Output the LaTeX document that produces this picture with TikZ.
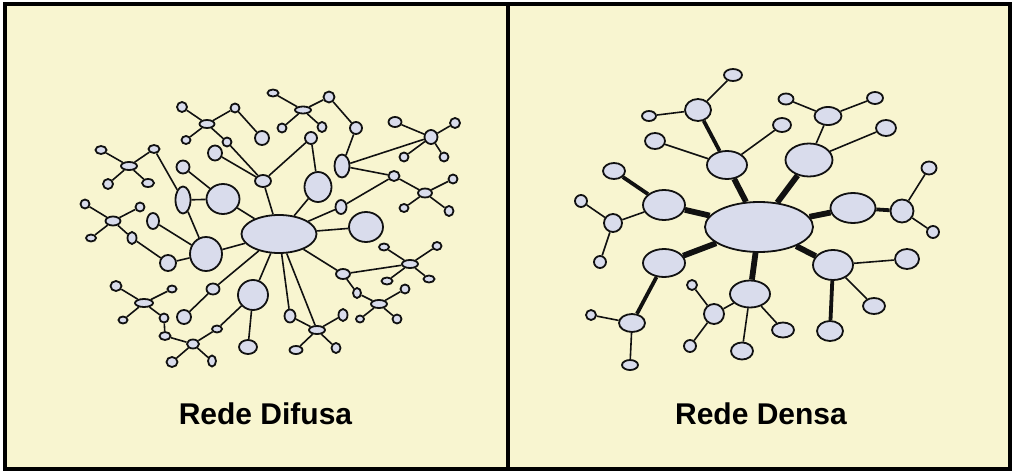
\documentclass[tikz,border=0pt]{standalone}
\usepackage{fontspec}
\setmainfont{Liberation Sans}
\usetikzlibrary{shapes.geometric}
\definecolor{bgcream}{HTML}{F8F5D0}
\definecolor{nodefill}{HTML}{D9DCEC}
\definecolor{edgeink}{HTML}{111111}
\tikzset{
  nd/.style={ellipse, draw=edgeink, line width=1.8pt, fill=nodefill, inner sep=0pt},
  ed/.style={draw=edgeink, line width=1.6pt},
  edmid/.style={draw=edgeink, line width=3.8pt},
  edthick/.style={draw=edgeink, line width=5.8pt},
  lbl/.style={font=\bfseries\fontsize{30}{36}\selectfont, anchor=base, inner sep=0pt}
}
\newcommand\mkn[5]{\node[nd, minimum width=#4pt, minimum height=#5pt] (#1) at (#2,#3) {};}
\begin{document}
\begin{tikzpicture}[x=1pt,y=-1pt]
\useasboundingbox (0,0) rectangle (1018,476);
\fill[white] (0,0) rectangle (1018,476);
\draw[line width=4pt, fill=bgcream] (4.5,4.5) rectangle (1010,469);
\coordinate (divtop) at (508,4.5);
\coordinate (divbot) at (508,469);
\draw[line width=3.5pt] (divtop) -- (divbot);

% ---------------- Left panel: Rede Difusa ----------------
\mkn{C}{279}{234}{75}{38}
\mkn{ah}{303}{110}{16}{7}
\mkn{a1}{273}{93}{11}{7}
\mkn{a2}{329}{97}{11}{11}
\mkn{a3}{282}{128}{9}{9}
\mkn{a4}{322}{127}{9}{10}
\mkn{a5}{356}{128}{12}{12}
\mkn{a6}{342}{166}{15}{23}
\mkn{bh}{431}{137}{13}{14}
\mkn{b1}{395}{122}{13}{10}
\mkn{b2}{455}{123}{10}{10}
\mkn{b3}{404}{157}{9}{9}
\mkn{b4}{444}{157}{9}{9}
\mkn{ch}{425}{193}{14}{9}
\mkn{c0}{394}{176}{11}{10}
\mkn{c1}{453}{179}{9}{9}
\mkn{c2}{404}{208}{9}{8}
\mkn{c3}{449}{211}{9}{10}
\mkn{d}{341}{207}{11}{14}
\mkn{e}{366}{227}{34}{30}
\mkn{f}{318}{187}{27}{30}
\mkn{g}{311}{138}{12}{12}
\mkn{h}{263}{181}{16}{12}
\mkn{i}{262}{138}{14}{14}
\mkn{j}{215}{153}{14}{15}
\mkn{k}{227}{142}{9}{9}
\mkn{lh}{207}{124}{15}{8}
\mkn{l1}{182}{107}{10}{10}
\mkn{l2}{235}{108}{9}{9}
\mkn{l3}{186}{140}{9}{8}
\mkn{m}{183}{167}{13}{13}
\mkn{n}{223}{199}{33}{30}
\mkn{o}{183}{200}{15}{27}
\mkn{mh}{129}{166}{16}{8}
\mkn{m1}{101}{150}{11}{8}
\mkn{m2}{154}{149}{11}{8}
\mkn{m3}{108}{184}{10}{10}
\mkn{m4}{148}{183}{12}{8}
\mkn{ph}{113}{221}{15}{9}
\mkn{p1}{85}{204}{9}{9}
\mkn{p2}{140}{207}{9}{9}
\mkn{p3}{91}{238}{10}{7}
\mkn{p4}{132}{238}{9}{12}
\mkn{q}{153}{221}{12}{16}
\mkn{r}{206}{254}{32}{34}
\mkn{s}{168}{263}{16}{16}
\mkn{th}{144}{303}{18}{8}
\mkn{t1}{116}{286}{11}{10}
\mkn{t2}{172}{289}{9}{7}
\mkn{t3}{123}{320}{9}{7}
\mkn{t4}{164}{318}{9}{9}
\mkn{uh}{193}{344}{12}{9}
\mkn{u0}{165}{336}{11}{8}
\mkn{u1}{217}{329}{10}{7}
\mkn{u2}{172}{362}{11}{10}
\mkn{u3}{212}{361}{8}{11}
\mkn{v}{213}{289}{13}{11}
\mkn{w}{184}{317}{14}{14}
\mkn{x}{253}{295}{30}{30}
\mkn{y}{248}{347}{18}{14}
\mkn{zh}{317}{330}{16}{8}
\mkn{z1}{290}{316}{11}{13}
\mkn{z2}{343}{315}{9}{12}
\mkn{z3}{296}{350}{13}{8}
\mkn{z4}{336}{348}{9}{10}
\mkn{A}{343}{274}{14}{10}
\mkn{A1}{357}{293}{8}{10}
\mkn{Bh}{379}{304}{16}{8}
\mkn{B1}{360}{319}{8}{7}
\mkn{B2}{397}{319}{9}{9}
\mkn{B3}{405}{289}{9}{9}
\mkn{Dh}{410}{264}{16}{8}
\mkn{D1}{384}{247}{10}{7}
\mkn{D2}{437}{246}{9}{8}
\mkn{D3}{387}{281}{11}{7}
\mkn{D4}{429}{279}{11}{7}

\foreach \p/\q in {ah/a1,ah/a2,ah/a3,ah/a4,a2/a5,a5/a6,a6/bh,a6/c0,
  bh/b1,bh/b2,bh/b3,bh/b4,c0/ch,ch/c1,ch/c2,ch/c3,d/c0,C/d,C/e,C/f,
  f/g,g/h,h/C,k/h,j/h,lh/k,lh/l1,lh/l2,lh/l3,l2/i,m/n,o/n,m2/o,n/C,
  o/r,q/r,s/r,r/C,ph/p1,ph/p2,ph/p3,ph/p4,p4/s,mh/m1,mh/m2,mh/m3,mh/m4,
  th/t1,th/t2,th/t3,th/t4,t4/u0,u0/uh,uh/u1,uh/u2,uh/u3,u1/x,x/C,x/y,
  w/v,v/C,C/z1,C/zh,zh/z1,zh/z2,zh/z3,zh/z4,C/A,A/A1,A1/Bh,Bh/B1,Bh/B2,Bh/B3,
  A/Dh,Dh/D1,Dh/D2,Dh/D3,Dh/D4}
  \draw[ed] (\p) -- (\q);

% ---------------- Right panel: Rede Densa ----------------
\mkn{R}{759}{227}{108}{50}
\mkn{R1}{727}{165}{40}{28}
\mkn{R2}{809}{160}{47}{33}
\mkn{R3}{664}{205}{42}{30}
\mkn{R4}{853}{208}{45}{30}
\mkn{R5}{664}{263}{42}{28}
\mkn{R6}{833}{265}{40}{30}
\mkn{R7}{750}{294}{40}{27}
\mkn{r11}{698}{110}{26}{22}
\mkn{r12}{733}{75}{18}{12}
\mkn{r13}{649}{116}{14}{10}
\mkn{r14}{655}{141}{20}{16}
\mkn{r15}{782}{125}{18}{14}
\mkn{r21}{828}{116}{27}{18}
\mkn{r22}{786}{99}{15}{11}
\mkn{r23}{875}{98}{16}{12}
\mkn{r24}{886}{128}{20}{16}
\mkn{r31}{614}{171}{22}{16}
\mkn{r32}{613}{223}{18}{18}
\mkn{r33}{581}{201}{12}{12}
\mkn{r34}{600}{262}{12}{12}
\mkn{r41}{902}{211}{23}{23}
\mkn{r42}{929}{168}{15}{13}
\mkn{r43}{933}{232}{12}{12}
\mkn{r51}{632}{323}{26}{18}
\mkn{r52}{591}{315}{10}{10}
\mkn{r53}{630}{365}{16}{10}
\mkn{r61}{830}{331}{26}{20}
\mkn{r62}{907}{259}{24}{20}
\mkn{r63}{874}{306}{22}{16}
\mkn{r71}{714}{314}{20}{20}
\mkn{r72}{692}{285}{10}{10}
\mkn{r73}{690}{346}{12}{12}
\mkn{r74}{742}{351}{22}{17}
\mkn{r75}{783}{330}{22}{15}

\foreach \p/\q in {R/R1,R/R2,R/R3,R/R4,R/R5,R/R6,R/R7}
  \draw[edthick] (\p) -- (\q);
\foreach \p/\q in {R1/r11,R3/r31,R4/r41,R5/r51,R6/r61}
  \draw[edmid] (\p) -- (\q);
\foreach \p/\q in {r11/r12,r11/r13,R1/r14,R1/r15,R2/r21,r21/r22,r21/r23,R2/r24,
  R3/r32,r32/r33,r32/r34,r41/r42,r41/r43,R6/r62,R6/r63,r51/r52,r51/r53,
  R7/r71,r71/r72,r71/r73,R7/r74,R7/r75}
  \draw[ed] (\p) -- (\q);

\node[lbl] (ldif) at (265.5,424) {Rede Difusa};
\node[lbl] (lden) at (761,424) {Rede Densa};
\end{tikzpicture}
\end{document}
